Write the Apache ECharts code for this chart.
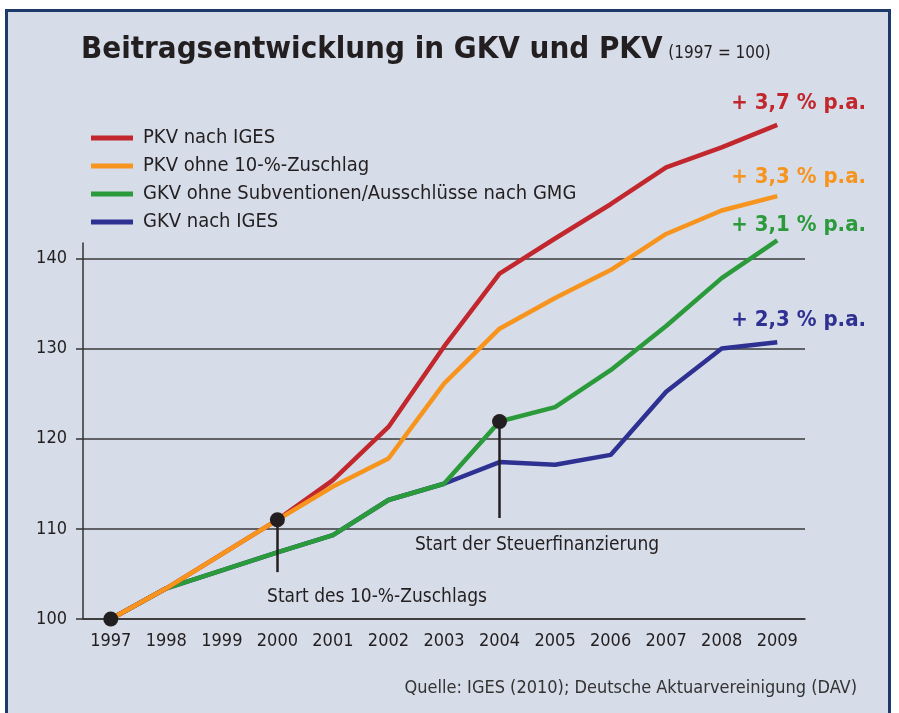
<!DOCTYPE html>
<html>
<head>
<meta charset="utf-8">
<script src="https://cdn.jsdelivr.net/npm/echarts@6/dist/echarts.min.js"></script>
<style>
  html, body { margin: 0; padding: 0; background: #fff; }
  #frame { position: absolute; left: 5px; top: 9px; width: 886px; height: 720px; border: 3px solid #1d3a6b; background: #d6dce8; box-sizing: border-box; }
  #chart { position: absolute; left: 0; top: 0; width: 899px; height: 713px; }
</style>
</head>
<body>
<div id="frame"></div>
<div id="chart"></div>
<script>
  var years = ['1997', '1998', '1999', '2000', '2001', '2002', '2003', '2004', '2005', '2006', '2007', '2008', '2009'];
  var pkvIges = [100, 103.4, 107.2, 111.0, 115.4, 121.3, 130.2, 138.3, 142.2, 146.0, 150.1, 152.3, 154.8];
  var pkvOhne = [100, 103.4, 107.2, 111.0, 114.7, 117.8, 126.1, 132.2, 135.6, 138.7, 142.7, 145.3, 146.9];
  var gkvOhne = [100, 103.4, 105.4, 107.4, 109.3, 113.2, 115.0, 121.9, 123.5, 127.6, 132.5, 137.8, 142.0];
  var gkvIges = [100, 103.4, 105.4, 107.4, 109.3, 113.2, 115.0, 117.4, 117.1, 118.2, 125.2, 130.0, 130.7];
  var yTicks = [100, 110, 120, 130, 140];
  var rates = ['+ 3,7 % p.a.', '+ 3,3 % p.a.', '+ 3,1 % p.a.', '+ 2,3 % p.a.'];
  var markers = [['1997', 100], ['2000', 111.0], ['2004', 121.9]];
  // stem: year, from value, to value
  var stems = [['2000', 111.0, 105.2], ['2004', 121.9, 111.2]];
  var notes = ['Start des 10-%-Zuschlags', 'Start der Steuerfinanzierung'];
  var names = ['PKV nach IGES', 'PKV ohne 10-%-Zuschlag', 'GKV ohne Subventionen/Ausschlüsse nach GMG', 'GKV nach IGES'];
  var colors = ['#c1272d', '#f7941d', '#2a9a3a', '#2e3192'];

  var font = "'Liberation Sans Narrow', 'DejaVu Sans Condensed', sans-serif";
  var dark = '#231f20';

  var chart = echarts.init(document.getElementById('chart'));

  function lineSeries(i, data, z) {
    return {
      name: names[i],
      type: 'line',
      data: data,
      clip: false,
      symbol: 'none',
      z: z,
      lineStyle: { color: colors[i], width: 4.5 },
      itemStyle: { color: colors[i] }
    };
  }

  var option = {
    animation: false,
    textStyle: { fontFamily: font },
    title: {
      left: 76,
      top: 29,
      text: '{a|Beitragsentwicklung in GKV und PKV} {b|(1997 = 100)}',
      textStyle: {
        rich: {
          a: { fontFamily: font, fontWeight: 'bold', fontSize: 31, color: dark },
          b: { fontFamily: font, fontWeight: 'normal', fontSize: 17, color: dark, padding: [8, 0, 0, 0] }
        }
      }
    },
    legend: {
      orient: 'vertical',
      left: 86,
      top: 123,
      icon: 'rect',
      itemWidth: 42,
      itemHeight: 5,
      itemGap: 8,
      data: names,
      textStyle: { fontFamily: font, fontSize: 20, color: dark, padding: [0, 0, 0, 5] }
    },
    grid: { left: 83, right: 94, top: 243, bottom: 94 },
    xAxis: {
      type: 'category',
      data: years,
      boundaryGap: true,
      axisLine: { lineStyle: { color: '#333', width: 1.5 } },
      axisTick: { length: 8, lineStyle: { color: '#333', width: 1.5 } },
      axisLabel: { color: dark, fontSize: 18, margin: 13, interval: 0, fontFamily: font }
    },
    yAxis: {
      type: 'value',
      min: 100,
      max: 141.7,
      interval: 10,
      axisLine: { show: true, lineStyle: { color: '#333', width: 1.5 } },
      axisTick: { show: true, length: 7, customValues: yTicks, lineStyle: { color: '#333', width: 1.5 } },
      axisLabel: { color: dark, fontSize: 18, margin: 16, customValues: yTicks, fontFamily: font },
      splitLine: { show: true, lineStyle: { color: '#3a3a3a', width: 1.5 } }
    },
    series: [
      lineSeries(3, gkvIges, 2),
      lineSeries(2, gkvOhne, 3),
      lineSeries(0, pkvIges, 4),
      lineSeries(1, pkvOhne, 5),
      {
        type: 'scatter',
        data: markers,
        symbolSize: 15,
        z: 10,
        itemStyle: { color: dark, opacity: 1 },
        markLine: {
          silent: true,
          symbol: 'none',
          label: { show: false },
          lineStyle: { color: dark, width: 2.5, type: 'solid', opacity: 1 },
          data: stems.map(function (s) {
            return [{ coord: [s[0], s[1]] }, { coord: [s[0], s[2]] }];
          })
        }
      }
    ]
  };

  var rateY = [103, 177, 225, 320];
  var g = [];
  rates.forEach(function (t, i) {
    g.push({
      type: 'text', x: 866, y: rateY[i],
      style: { text: t, fill: colors[i], font: 'bold 22px ' + font, textAlign: 'right', textVerticalAlign: 'middle' }
    });
  });
  g.push({ type: 'text', x: 377, y: 597, style: { text: notes[0], fill: dark, font: '19px ' + font, textAlign: 'center', textVerticalAlign: 'middle' } });
  g.push({ type: 'text', x: 537, y: 545, style: { text: notes[1], fill: dark, font: '19px ' + font, textAlign: 'center', textVerticalAlign: 'middle' } });
  g.push({ type: 'text', x: 857, y: 688, style: { text: 'Quelle: IGES (2010); Deutsche Aktuarvereinigung (DAV)', fill: '#333', font: '18px ' + font, textAlign: 'right', textVerticalAlign: 'middle' } });
  option.graphic = g;

  chart.setOption(option);
  window.addEventListener('resize', function () { chart.resize(); });
</script>
</body>
</html>
